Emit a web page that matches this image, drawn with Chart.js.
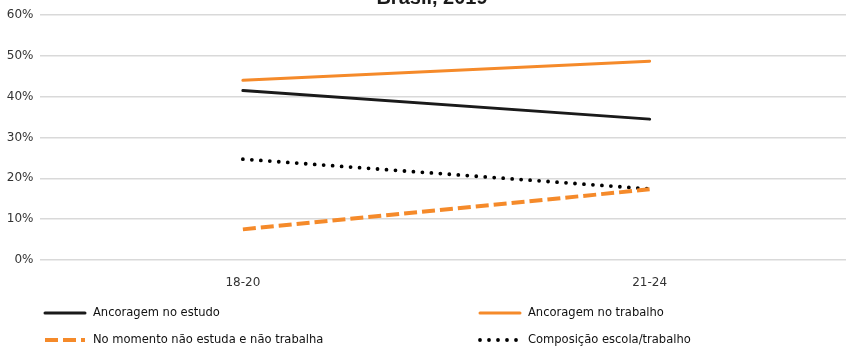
<!DOCTYPE html>
<html>
<head>
<meta charset="utf-8">
<script src="https://cdn.jsdelivr.net/npm/chart.js@4/dist/chart.umd.min.js"></script>
<style>
  html, body { margin: 0; padding: 0; background: #fff; overflow: hidden; }
  #wrap { width: 853px; height: 347px; }
</style>
</head>
<body>
<div id="wrap"><canvas id="line-chart"></canvas></div>
<script>
// Faixas etárias e séries (em %)
var faixas = ["18-20", "21-24"];
var estudo = [41.5, 34.5];
var trabalho = [44.0, 48.7];
var nemNem = [7.5, 17.3];
var composicao = [24.7, 17.4];
var yTicks = [0, 10, 20, 30, 40, 50, 60];
var titulo = "Brasil, 2019";

var preto = "#1a1a1a";
var laranja = "#f58a2a";
var fonteCond = "'DejaVu Sans Condensed', 'Liberation Sans Narrow', sans-serif";

// legenda em duas colunas, desenhada no próprio canvas
var legendaPlugin = {
    id: "legendaDuasColunas",
    afterDraw: function(chart) {
        var ctx = chart.ctx;
        var colX = [45, 480];
        var rowY = [313, 340];
        chart.data.datasets.forEach(function(ds, i) {
            var x = colX[i % 2];
            var y = rowY[Math.floor(i / 2)];
            ctx.save();
            ctx.strokeStyle = ds.borderColor;
            ctx.lineWidth = ds.borderWidth;
            ctx.lineCap = ds.borderCapStyle || "butt";
            ctx.setLineDash(ds.borderDash || []);
            ctx.beginPath();
            ctx.moveTo(x, y);
            ctx.lineTo(x + 40, y);
            ctx.stroke();
            ctx.setLineDash([]);
            ctx.fillStyle = "#111";
            ctx.font = "12.8px " + fonteCond;
            ctx.textBaseline = "middle";
            ctx.fillText(ds.label, x + 48, y);
            ctx.restore();
        });
    }
};

// título (só a última linha cabe no topo)
var tituloPlugin = {
    id: "tituloTopo",
    afterDraw: function(chart) {
        var ctx = chart.ctx;
        ctx.save();
        ctx.fillStyle = "#1a1a1a";
        ctx.font = "bold 20px 'Liberation Sans', sans-serif";
        ctx.textAlign = "center";
        ctx.textBaseline = "alphabetic";
        ctx.fillText(titulo, 432, 4);
        ctx.restore();
    }
};

window.onload = function() {
    new Chart(document.getElementById("line-chart"), {
        type: "line",
        data: {
            labels: faixas,
            datasets: [{
                label: "Ancoragem no estudo",
                data: estudo,
                borderColor: preto,
                borderWidth: 3,
                borderCapStyle: "round"
            }, {
                label: "Ancoragem no trabalho",
                data: trabalho,
                borderColor: laranja,
                borderWidth: 3,
                borderCapStyle: "round"
            }, {
                label: "No momento não estuda e não trabalha",
                data: nemNem,
                borderColor: laranja,
                borderWidth: 4,
                borderDash: [13, 5]
            }, {
                label: "Composição escola/trabalho",
                data: composicao,
                borderColor: "#000",
                borderWidth: 3.8,
                borderCapStyle: "round",
                borderDash: [0, 9]
            }]
        },
        options: {
            responsive: true,
            maintainAspectRatio: false,
            animation: false,
            layout: { padding: { top: 15, left: 0, right: 0, bottom: 0 } },
            elements: { point: { radius: 0 }, line: { tension: 0, fill: false } },
            plugins: {
                legend: { display: false },
                title: { display: false },
                tooltip: { enabled: false }
            },
            scales: {
                x: {
                    offset: true,
                    grid: { display: false, drawTicks: false },
                    border: { display: false },
                    ticks: {
                        color: "#333",
                        font: { family: "'DejaVu Sans', sans-serif", size: 12 },
                        padding: 16
                    },
                    afterFit: function(scale) { scale.height = 87; }
                },
                y: {
                    min: 0,
                    max: 60,
                    afterBuildTicks: function(scale) {
                        scale.ticks = yTicks.map(function(v) { return { value: v }; });
                    },
                    grid: { color: "#d9d9d9", lineWidth: 1.5, drawTicks: false },
                    border: { display: false },
                    ticks: {
                        color: "#333",
                        font: { family: "'DejaVu Sans', sans-serif", size: 12 },
                        padding: 6,
                        callback: function(v) { return v + "%"; }
                    },
                    afterFit: function(scale) { scale.width = 39.5; }
                }
            }
        },
        plugins: [legendaPlugin, tituloPlugin]
    });
};
</script>
</body>
</html>
